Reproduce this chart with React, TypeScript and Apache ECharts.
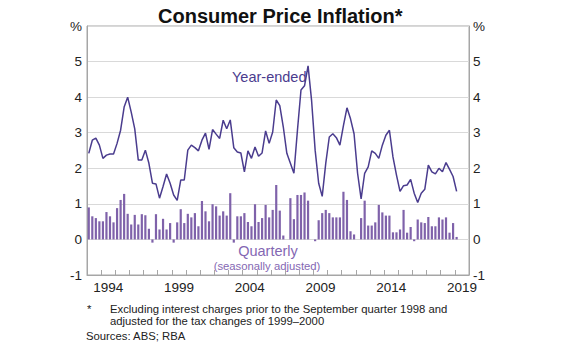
import React, { useEffect, useRef } from 'react';
import * as echarts from 'echarts';

const firstYear = 1993;
const lastYear = 2019;
const yearLabels = ['1994', '1999', '2004', '2009', '2014', '2019'];

const yearEnded = [
  2.42, 2.79, 2.85, 2.65, 2.28, 2.37, 2.4, 2.4, 2.7, 3.07,
  3.72, 4.0, 3.58, 3.11, 2.23, 2.23, 2.51, 2.14, 1.58, 1.56,
  1.16, 1.49, 1.84, 1.58, 1.25, 1.1, 1.67, 1.67, 2.51, 2.65,
  2.58, 2.49, 2.79, 2.99, 2.53, 3.09, 2.96, 2.84, 3.35, 3.11,
  3.36, 2.58, 2.46, 2.43, 1.9, 2.49, 2.28, 2.6, 2.34, 2.43,
  3.05, 2.7, 3.02, 3.92, 3.76, 3.16, 2.42, 2.14, 1.86, 3.07,
  4.2, 4.32, 4.88, 3.9, 2.51, 1.58, 1.21, 2.14, 2.88, 2.97,
  2.86, 2.65, 3.2, 3.7, 3.39, 2.97, 1.86, 1.14, 1.86, 2.04,
  2.49, 2.42, 2.28, 2.65, 2.93, 3.07, 2.32, 1.81, 1.35, 1.51,
  1.53, 1.69, 1.3, 1.04, 1.3, 1.41, 2.09, 1.9, 1.84, 2.0,
  1.9, 2.16, 1.97, 1.77, 1.35,
];

const quarterly = [
  0.9, 0.65, 0.6, 0.51, 0.51, 0.77, 0.65, 0.48, 0.88, 1.11,
  1.28, 0.72, 0.42, 0.69, 0.42, 0.71, 0.68, 0.3, -0.09, 0.71,
  0.28, 0.58, 0.28, 0.46, -0.09, 0.48, 0.85, 0.46, 0.72, 0.62,
  0.74, 0.37, 1.08, 0.79, 0.51, 0.99, 0.93, 0.67, 0.79, 0.67,
  1.3, -0.09, 0.65, 0.65, 0.74, 0.49, 0.37, 0.99, 0.49, 0.6,
  0.97, 0.62, 0.83, 1.53, 0.81, 0.11, 0.0, 1.16, 0.57, 1.25,
  1.25, 1.32, 1.09, 0.0, -0.05, 0.54, 0.74, 0.83, 0.74, 0.62,
  0.62, 0.62, 1.34, 1.11, 0.23, 0.14, 0.0, 0.6, 1.09, 0.39,
  0.39, 0.48, 0.97, 0.76, 0.67, 0.67, 0.2, 0.2, 0.28, 0.83,
  0.19, 0.35, -0.05, 0.56, 0.48, 0.46, 0.63, 0.37, 0.37, 0.62,
  0.56, 0.62, 0.19, 0.46, 0.07,
];

const categories: string[] = [];
for (let y = firstYear; y <= lastYear; y++) {
  for (let q = 1; q <= 4; q++) categories.push(`${y} Q${q}`);
}

const FONT = 'Liberation Sans, Arial, sans-serif';
const frame = '#a6a6a6';
const grid = '#d9d9d9';

export default function App() {
  const ref = useRef<HTMLDivElement>(null);
  useEffect(() => {
    if (!ref.current) return;
    const chart = echarts.init(ref.current, null, { renderer: 'svg' });
    const yAxisCommon = {
      type: 'value',
      min: -1,
      max: 6,
      interval: 1,
      axisLine: { show: true, lineStyle: { color: frame, width: 1 } },
      axisTick: { show: false },
      axisLabel: {
        fontFamily: FONT,
        fontSize: 13.5,
        color: '#222',
        formatter: (v: number) => (v === 6 ? '%' : String(v)),
      },
    };
    chart.setOption({
      animation: false,
      backgroundColor: '#fff',
      title: {
        text: 'Consumer Price Inflation*',
        left: 153,
        top: 1,
        textStyle: { fontFamily: FONT, fontWeight: 'bold', fontSize: 20, color: '#111' },
      },
      grid: {
        left: 87,
        right: 111,
        top: 26,
        bottom: 77,
        show: true,
        borderColor: frame,
        borderWidth: 1,
        backgroundColor: '#fff',
      },
      xAxis: {
        type: 'category',
        data: categories,
        boundaryGap: true,
        axisLine: { show: true, onZero: false, lineStyle: { color: frame } },
        axisTick: {
          show: true,
          inside: true,
          length: 5,
          interval: (i: number) => i % 4 === 0,
          lineStyle: { color: frame },
        },
        axisLabel: {
          fontFamily: FONT,
          fontSize: 13.5,
          color: '#222',
          margin: 5,
          padding: [0, 0, 0, 3.5],
          interval: (i: number, v: string) => yearLabels.includes(v.slice(0, 4)) && v.endsWith('Q2'),
          formatter: (v: string) => v.slice(0, 4),
        },
        splitLine: { show: false },
      },
      yAxis: [
        {
          ...yAxisCommon,
          position: 'left',
          axisLabel: { ...yAxisCommon.axisLabel, margin: 5 },
          splitLine: { show: true, lineStyle: { color: grid, width: 1 } },
        },
        {
          ...yAxisCommon,
          position: 'right',
          axisLabel: { ...yAxisCommon.axisLabel, margin: 4 },
          splitLine: { show: false },
        },
      ],
      series: [
        {
          name: 'Quarterly',
          type: 'bar',
          data: quarterly,
          barWidth: '62%',
          itemStyle: { color: '#7f62aa' },
          z: 2,
        },
        {
          name: 'Year-ended',
          type: 'line',
          data: yearEnded,
          symbol: 'none',
          lineStyle: { color: '#4a3c8e', width: 1.5 },
          z: 3,
        },
      ],
      graphic: [
        { type: 'text', x: 232, y: 77, style: { text: 'Year-ended', font: `14.5px ${FONT}`, fill: '#4a3c8e', textVerticalAlign: 'middle' } },
        { type: 'text', x: 268, y: 251, style: { text: 'Quarterly', font: `14.5px ${FONT}`, fill: '#8467b3', textAlign: 'center', textVerticalAlign: 'middle' } },
        { type: 'text', x: 267, y: 266, style: { text: '(seasonally adjusted)', font: `11.3px ${FONT}`, fill: '#8467b3', textAlign: 'center', textVerticalAlign: 'middle' } },
        { type: 'text', x: 87, y: 309, style: { text: '*', font: `11.3px ${FONT}`, fill: '#222', textVerticalAlign: 'middle' } },
        { type: 'text', x: 110, y: 309, style: { text: 'Excluding interest charges prior to the September quarter 1998 and', font: `11.3px ${FONT}`, fill: '#222', textVerticalAlign: 'middle' } },
        { type: 'text', x: 110, y: 321, style: { text: 'adjusted for the tax changes of 1999–2000', font: `11.3px ${FONT}`, fill: '#222', textVerticalAlign: 'middle' } },
        { type: 'text', x: 86, y: 336, style: { text: 'Sources: ABS; RBA', font: `11.3px ${FONT}`, fill: '#222', textVerticalAlign: 'middle' } },
      ],
    });
    return () => chart.dispose();
  }, []);
  return <div ref={ref} style={{ position: 'absolute', left: 0, top: 0, width: 580, height: 352 }} />;
}
